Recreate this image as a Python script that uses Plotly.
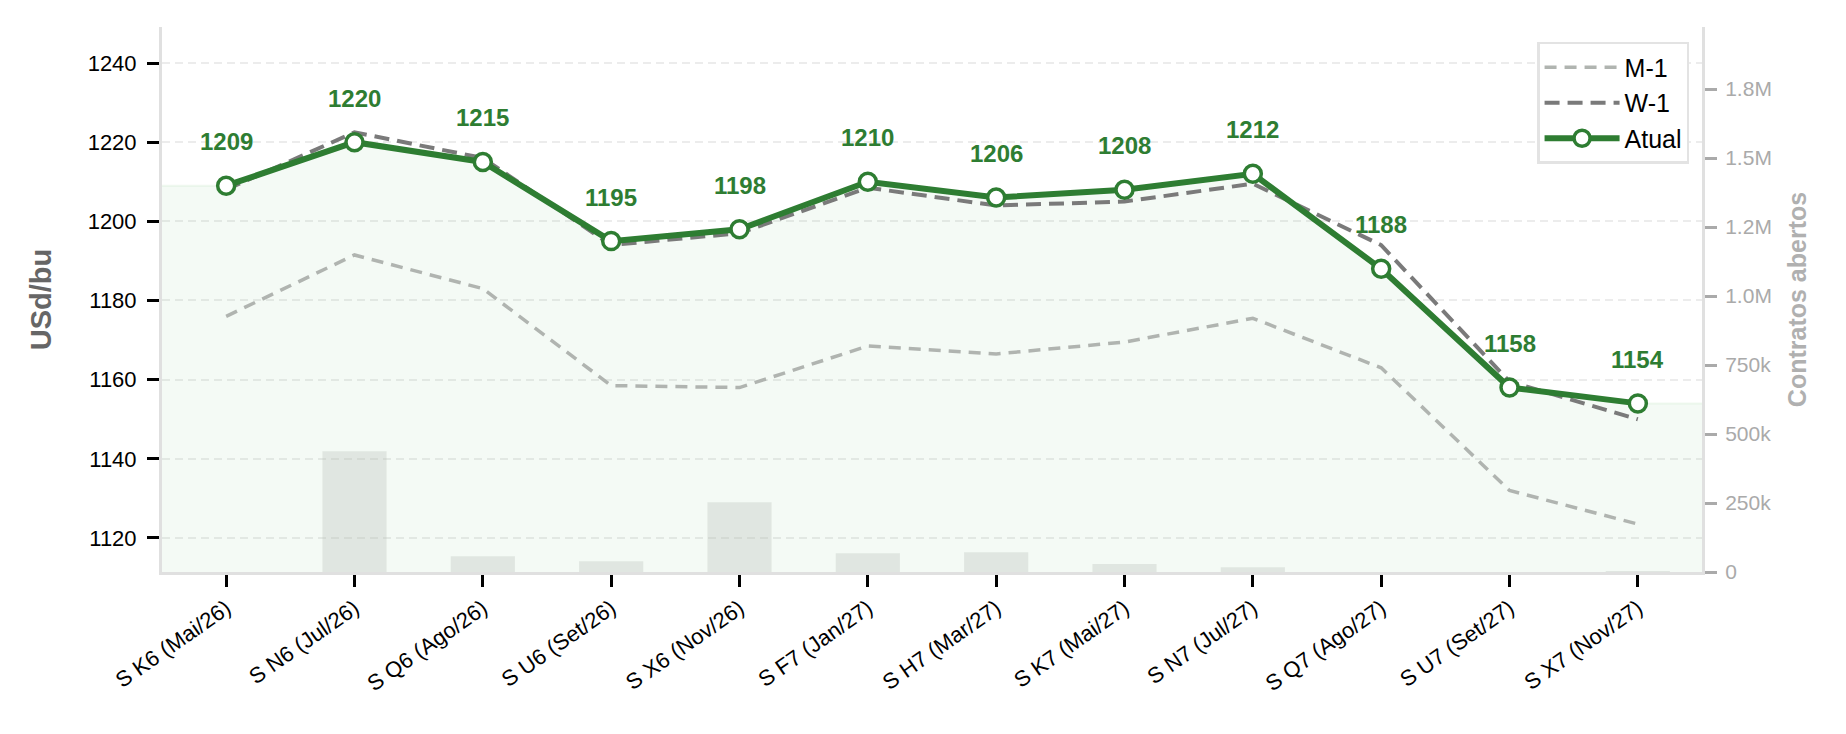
import plotly.graph_objects as go

contracts = ["S K6 (Mai/26)", "S N6 (Jul/26)", "S Q6 (Ago/26)", "S U6 (Set/26)",
             "S X6 (Nov/26)", "S F7 (Jan/27)", "S H7 (Mar/27)", "S K7 (Mai/27)",
             "S N7 (Jul/27)", "S Q7 (Ago/27)", "S U7 (Set/27)", "S X7 (Nov/27)"]
atual = [1209, 1220, 1215, 1195, 1198, 1210, 1206, 1208, 1212, 1188, 1158, 1154]
w1 = [1208, 1222.5, 1216, 1194, 1197, 1208.5, 1204, 1205, 1209.5, 1194, 1159.5, 1150]
m1 = [1176, 1191.5, 1183, 1158.5, 1158, 1168.5, 1166.5, 1169.5, 1175.5, 1163, 1132, 1123.5]
open_interest = [0, 438000, 57000, 39000, 253000, 68000, 72000, 29000, 17000, 0, 0, 4000]

y2_tickvals = [0, 250000, 500000, 750000, 1000000, 1250000, 1500000, 1750000]
y2_ticktext = ["0", "250k", "500k", "750k", "1.0M", "1.2M", "1.5M", "1.8M"]
y1_tickvals = [1120, 1140, 1160, 1180, 1200, 1220, 1240]

GREEN = "#2e7d32"
FONT = "Liberation Sans, Arial, sans-serif"
idx = list(range(len(contracts)))
x_lo, x_hi = -0.5, len(contracts) - 0.5

fig = go.Figure()

# light green area under the current curve, extended flat to the plot edges
fig.add_trace(go.Scatter(
    x=[x_lo] + idx + [x_hi], y=[atual[0]] + atual + [atual[-1]],
    mode="lines", fill="tozeroy", fillcolor="rgba(76,175,80,0.06)",
    line=dict(color="rgba(76,175,80,0.08)", width=2),
    showlegend=False, hoverinfo="skip"))

fig.add_trace(go.Scatter(
    x=idx, y=m1, mode="lines", name="M-1",
    line=dict(color="#b0b4b0", width=3.5, dash="12px,8px")))
fig.add_trace(go.Scatter(
    x=idx, y=w1, mode="lines", name="W-1",
    line=dict(color="#7a7a7a", width=4, dash="15px,8px")))
fig.add_trace(go.Scatter(
    x=idx, y=atual, mode="lines+markers", name="Atual",
    line=dict(color=GREEN, width=6),
    marker=dict(size=17, color="white", line=dict(color=GREEN, width=3.5))))

fig.add_trace(go.Bar(
    x=idx, y=open_interest, yaxis="y2", width=0.5,
    marker=dict(color="rgba(180,185,180,0.3)", line=dict(width=0)),
    showlegend=False, hoverinfo="skip"))

for i, v in zip(idx, atual):
    fig.add_annotation(x=i, y=v, text=f"<b>{round(v)}</b>", showarrow=False,
                       yshift=44, font=dict(family=FONT, size=24, color=GREEN))

fig.update_layout(
    width=1846, height=734,
    margin=dict(l=162, r=144, t=27, b=162),
    paper_bgcolor="white", plot_bgcolor="white",
    font=dict(family=FONT, color="black"),
    showlegend=True,
    legend=dict(x=0.9916, y=0.9725, xanchor="right", yanchor="top",
                bgcolor="white", bordercolor="#e3e3e3", borderwidth=2.5,
                font=dict(family=FONT, size=25, color="black"),
                tracegroupgap=0, itemwidth=75),
    xaxis=dict(range=[x_lo, x_hi], tickvals=idx, ticktext=contracts,
               tickangle=-35, tickfont=dict(size=22, color="black"),
               ticks="outside", ticklen=12, tickwidth=2.5, tickcolor="black",
               showgrid=False, zeroline=False,
               showline=True, linecolor="#e0e0e0", linewidth=3),
    yaxis=dict(range=[1111.4, 1249.1], tickvals=y1_tickvals,
               tickfont=dict(size=22, color="black"),
               ticks="outside", ticklen=12, tickwidth=2.5, tickcolor="black",
               ticklabelstandoff=6,
               showgrid=True, gridcolor="#ececec", gridwidth=2, griddash="8px,5px",
               zeroline=False, showline=True, linecolor="#e0e0e0", linewidth=3,
               title=dict(text="<b>USd/bu</b>", font=dict(size=29, color="#666666"),
                          standoff=28)),
    yaxis2=dict(range=[0, 1975000], overlaying="y", side="right",
                tickvals=y2_tickvals, ticktext=y2_ticktext,
                tickfont=dict(size=21, color="#aaaaaa"),
                ticks="outside", ticklen=12, tickwidth=2.5, tickcolor="#aaaaaa",
                ticklabelstandoff=4,
                showgrid=False, zeroline=False,
                showline=True, linecolor="#e0e0e0", linewidth=3,
                title=dict(text="<b>Contratos abertos</b>",
                           font=dict(size=25, color="#b0b0b0"), standoff=18)),
    bargap=0.5,
)

fig.write_html("out.html")
